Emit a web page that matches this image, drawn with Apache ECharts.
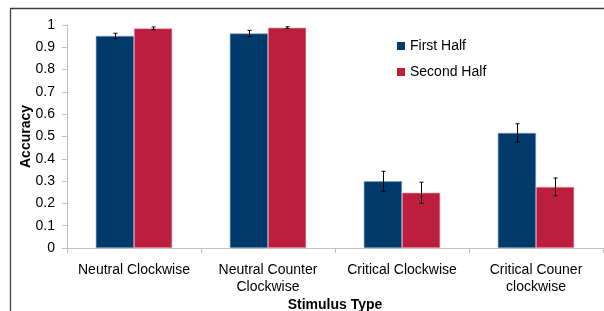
<!DOCTYPE html>
<html><head><meta charset="utf-8">
<script src="https://cdn.jsdelivr.net/npm/echarts@6/dist/echarts.min.js"></script>
<style>html,body{margin:0;padding:0;background:#fff}#c{width:604px;height:311px}</style>
</head><body><div id="c"></div>
<script>
const categories = ['Neutral Clockwise', 'Neutral Counter\nClockwise', 'Critical Clockwise', 'Critical Couner\nclockwise'];
const firstHalf = [0.951, 0.962, 0.299, 0.516];
const secondHalf = [0.985, 0.988, 0.248, 0.274];
const firstErr = [0.012, 0.014, 0.045, 0.041];
const secondErr = [0.006, 0.004, 0.047, 0.040];
const seriesNames = ['First Half', 'Second Half'];
const yTicks = [0, 0.1, 0.2, 0.3, 0.4, 0.5, 0.6, 0.7, 0.8, 0.9, 1];

const BLUE = '#003a6b', RED = '#bd1e3e';
const chart = echarts.init(document.getElementById('c'), null, {renderer: 'canvas'});
const font = 'Liberation Sans, Arial, sans-serif';

function errSeries(vals, errs, idx) {
  return {
    type: 'custom', silent: true, z: 10,
    data: vals.map((v, i) => [i, v - errs[i], v + errs[i]]),
    renderItem: function (params, api) {
      const ci = api.value(0);
      const lo = api.coord([ci, api.value(1)]);
      const hi = api.coord([ci, api.value(2)]);
      const bw = api.size([1, 0])[0];
      const barW = bw * 0.57 / 2;
      const x = Math.round(lo[0] + (idx === 0 ? -barW / 2 : barW / 2)) + 0.5;
      const c = 2;
      const st = {stroke: '#000', lineWidth: 1};
      return {type: 'group', children: [
        {type: 'line', shape: {x1: x, y1: lo[1], x2: x, y2: hi[1]}, style: st},
        {type: 'line', shape: {x1: x - c, y1: lo[1], x2: x + c, y2: lo[1]}, style: st},
        {type: 'line', shape: {x1: x - c, y1: hi[1], x2: x + c, y2: hi[1]}, style: st}
      ]};
    }
  };
}

chart.setOption({
  animation: false,
  textStyle: {fontFamily: font},
  grid: {left: 67, right: 1, top: 25, bottom: 63, containLabel: false, outerBoundsMode: 'none'},
  legend: {
    orient: 'vertical', left: 392, top: 34, itemGap: 12,
    itemWidth: 8, itemHeight: 8, icon: 'rect',
    itemStyle: {borderWidth: 0},
    textStyle: {fontSize: 14, color: '#000', fontFamily: font},
    data: seriesNames
  },
  xAxis: {
    type: 'category', data: categories,
    name: 'Stimulus Type', nameLocation: 'middle', nameGap: 50, nameMoveOverlap: false,
    nameTextStyle: {fontSize: 14, fontWeight: 'bold', color: '#000', fontFamily: font},
    axisLine: {lineStyle: {color: '#c0c0c0', width: 1}},
    axisTick: {show: true, length: 5, lineStyle: {color: '#c0c0c0'}},
    axisLabel: {interval: 0, fontSize: 14, color: '#000', margin: 14, lineHeight: 17, fontFamily: font}
  },
  yAxis: {
    type: 'value', min: 0, max: 1, interval: 0.1,
    name: 'Accuracy', nameLocation: 'middle', nameGap: 34, nameRotate: 90, nameMoveOverlap: false,
    nameTextStyle: {fontSize: 14, fontWeight: 'bold', color: '#000', fontFamily: font},
    axisLine: {show: true, lineStyle: {color: '#c0c0c0', width: 1}},
    axisTick: {show: true, length: 5, lineStyle: {color: '#c0c0c0'}},
    splitLine: {show: false},
    axisLabel: {fontSize: 14, color: '#000', margin: 12, fontFamily: font,
      formatter: v => { const t = yTicks.find(t => Math.abs(t - v) < 1e-9); return String(t === undefined ? v : t); }}
  },
  series: [
    {name: seriesNames[0], type: 'bar', data: firstHalf, barGap: '0%', barCategoryGap: '43%',
     itemStyle: {color: BLUE, borderColor: '#7b9cc0', borderWidth: 0.6}},
    {name: seriesNames[1], type: 'bar', data: secondHalf,
     itemStyle: {color: RED, borderColor: '#e7a3b1', borderWidth: 0.6}},
    errSeries(firstHalf, firstErr, 0),
    errSeries(secondHalf, secondErr, 1)
  ],
  graphic: [
    {type: 'polyline', z: 100, shape: {points: [[10.5, 320], [10.5, 8.5], [610, 8.5]]},
     style: {stroke: '#404040', lineWidth: 1.3, fill: null}}
  ]
});
</script></body></html>
